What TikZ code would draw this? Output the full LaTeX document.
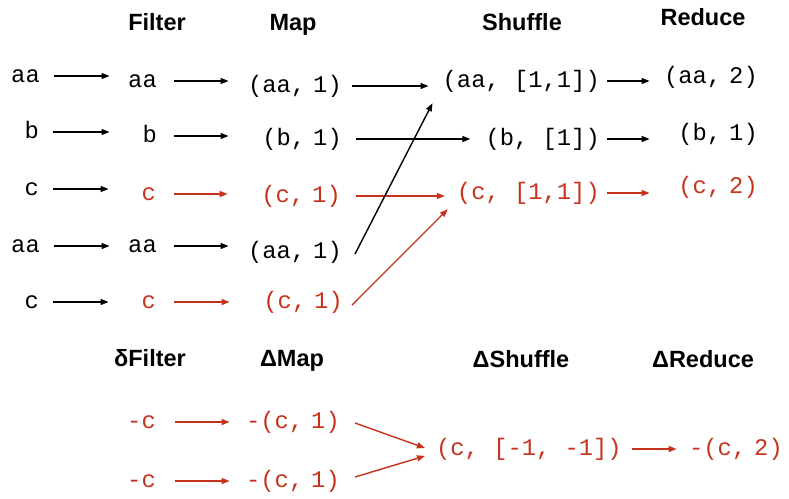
\documentclass[tikz,border=0pt]{standalone}
\usepackage{fontspec}
\setmainfont{Liberation Sans}
\setmonofont{Liberation Mono}
\usetikzlibrary{arrows.meta}
\definecolor{del}{HTML}{C7321C}
\tikzset{
  hd/.style={anchor=base,inner sep=0pt,font=\fontsize{23.5}{28}\selectfont\bfseries},
  tup/.style={anchor=base east,inner sep=0pt,text height=12pt,text depth=0pt,
    font=\fontsize{23.8}{28}\selectfont\ttfamily},
  dtup/.style={tup,text=del},
  fcol/.style={text width=47pt,align=right},
  mcol/.style={text width=113pt,align=right},
  rcol/.style={text width=108pt,align=right},
  dmcol/.style={text width=110pt,align=right},
  drcol/.style={text width=106pt,align=right},
  ar/.style={-{Triangle[length=8pt,width=6pt]},line width=1.4pt},
  dar/.style={ar,draw=del},
}

\begin{document}
\begin{tikzpicture}[x=1pt,y=-1pt]
  \useasboundingbox (0,0) rectangle (789,498);
  \node[hd] (hf) at (157,30) {Filter};
  \node[hd] (hm) at (293,30) {Map};
  \node[hd] (hs) at (522,30) {Shuffle};
  \node[hd] (hr) at (703,25) {Reduce};

  \node[tup] (i1) at (40,82) {aa};
  \node[tup] (i2) at (39,138) {b};
  \node[tup] (i3) at (39,195) {c};
  \node[tup] (i4) at (40,252) {aa};
  \node[tup] (i5) at (39,308) {c};

  \node[tup,fcol] (f1) at (157,87) {aa};
  \node[tup,fcol] (f2) at (157,142) {b};
  \node[dtup,fcol] (f3) at (156,200) {c};
  \node[tup,fcol] (f4) at (157,252) {aa};
  \node[dtup,fcol] (f5) at (156,308) {c};

  \node[tup,mcol] (m1) at (342,92) {(aa, 1)};
  \node[tup,mcol] (m2) at (342,145) {(b, 1)};
  \node[dtup,mcol] (m3) at (341,202) {(c, 1)};
  \node[tup,mcol] (m4) at (342,258) {(aa, 1)};
  \node[dtup,mcol] (m5) at (343,308) {(c, 1)};

  \node[tup] (s1) at (600,87) {(aa, [1,1])};
  \node[tup] (s2) at (600,145) {(b, [1])};
  \node[dtup] (s3) at (600,199) {(c, [1,1])};

  \node[tup,rcol] (r1) at (758,83) {(aa, 2)};
  \node[tup,rcol] (r2) at (758,140) {(b, 1)};
  \node[dtup,rcol] (r3) at (758,193) {(c, 2)};

  \draw[ar,shorten <=14pt] (i1.east) -- (i1.east -| f1.west);
  \draw[ar,shorten <=14pt] (i2.east) -- (i2.east -| f2.west);
  \draw[ar,shorten <=14pt] (i3.east) -- (i3.east -| f3.west);
  \draw[ar,shorten <=14pt] (i4.east) -- (i4.east -| f4.west);
  \draw[ar,shorten <=14pt] (i5.east) -- (i5.east -| f5.west);

  \draw[ar,shorten <=17pt] (f1.east) -- (f1.east -| m1.west);
  \draw[ar,shorten <=17pt] (f2.east) -- (f2.east -| m2.west);
  \draw[dar,shorten <=18pt] (f3.east) -- (f3.east -| m3.west);
  \draw[ar,shorten <=17pt] (f4.east) -- (f4.east -| m4.west);
  \draw[dar,shorten <=18pt] (f5.east) -- (f5.east -| m5.west);

  \draw[ar,shorten <=10pt,shorten >=14pt] (m1.east) -- (m1.east -| s1.west);
  \draw[ar,shorten <=14pt,shorten >=15pt] (m2.east) -- (m2.east -| s2.west);
  \draw[dar,shorten <=15pt,shorten >=12pt] (m3.east) -- (m3.east -| s3.west);
  \draw[ar] ([shift={(13,2)}]m4.east) -- ([shift={(-10,16)}]s1.south west);
  \draw[dar] ([shift={(9,3)}]m5.east) -- ([shift={(-9,10)}]s3.south west);

  \draw[ar,shorten <=7pt] (s1.east) -- (s1.east -| r1.west);
  \draw[ar,shorten <=7pt] (s2.east) -- (s2.east -| r2.west);
  \draw[dar,shorten <=7pt] (s3.east) -- (s3.east -| r3.west);

  \node[hd] (dhf) at (150,366) {δFilter};
  \node[hd] (dhm) at (292,366) {ΔMap};
  \node[hd] (dhs) at (521,367) {ΔShuffle};
  \node[hd] (dhr) at (703,367) {ΔReduce};

  \node[dtup] (d1) at (156,428) {-c};
  \node[dtup] (d2) at (156,487) {-c};
  \node[dtup,dmcol] (dm1) at (340,428) {-(c, 1)};
  \node[dtup,dmcol] (dm2) at (340,487) {-(c, 1)};
  \node[dtup] (ds) at (622,455) {(c, [-1, -1])};
  \node[dtup,drcol] (dr) at (783,455) {-(c, 2)};

  \draw[dar,shorten <=19pt] (d1.east) -- (d1.east -| dm1.west);
  \draw[dar,shorten <=19pt] (d2.east) -- (d2.east -| dm2.west);
  \draw[dar] ([shift={(15,1)}]dm1.east) -- ([shift={(-11,-1)}]ds.west);
  \draw[dar] ([shift={(15,-4)}]dm2.east) -- ([shift={(-11,7)}]ds.west);
  \draw[dar,shorten <=10pt] (ds.east) -- (ds.east -| dr.west);
\end{tikzpicture}
\end{document}
